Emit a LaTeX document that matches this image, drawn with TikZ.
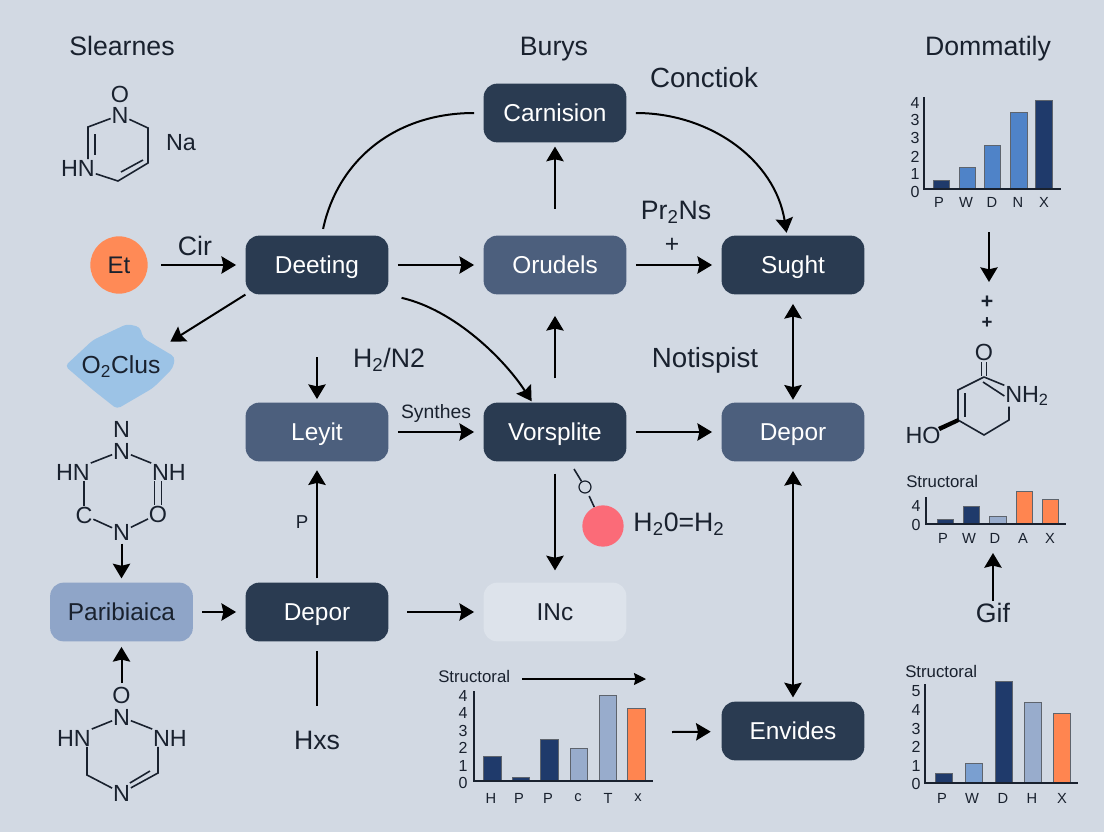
\documentclass[tikz,border=0pt]{standalone}
\usepackage{fontspec}
\setmainfont{Liberation Sans}
\usetikzlibrary{
  arrows.meta,
  calc
}
\definecolor{pagebg}{RGB}{210,217,227}
\definecolor{boxdark}{RGB}{42,59,81}
\definecolor{boxmid}{RGB}{76,95,125}
\definecolor{boxsoft}{RGB}{143,165,200}
\definecolor{boxpale}{RGB}{221,227,235}
\definecolor{inkdark}{RGB}{25,33,46}
\definecolor{barnavy}{RGB}{31,58,107}
\definecolor{barblue}{RGB}{79,131,200}
\definecolor{barsky}{RGB}{122,159,208}
\definecolor{barpale}{RGB}{152,172,204}
\definecolor{barorange}{RGB}{255,133,80}
\definecolor{ballorange}{RGB}{255,138,86}
\definecolor{ballred}{RGB}{251,107,120}
\definecolor{blobblue}{RGB}{156,195,230}

\begin{document}
\begin{tikzpicture}[
  x=0.75pt, y=-0.75pt,
  stepbox/.style={
    rectangle, rounded corners=10pt, text=white,
    minimum width=107pt, minimum height=44pt, inner sep=0pt,
    text height=13pt, text depth=0pt,
    font=\fontsize{18.3}{20}\selectfont
  },
  darkbox/.style={stepbox, fill=boxdark},
  midbox/.style={stepbox, fill=boxmid},
  softbox/.style={stepbox, fill=boxsoft, text=inkdark},
  palebox/.style={stepbox, fill=boxpale, text=inkdark},
  head/.style={inner sep=0pt, text=inkdark, text height=14.3pt, text depth=0pt,
    font=\fontsize{20}{22}\selectfont},
  headwide/.style={head, font=\fontsize{20.8}{22}\selectfont},
  lbl/.style={inner sep=0pt, text=inkdark, text height=13pt, text depth=0pt,
    font=\fontsize{18.5}{20}\selectfont},
  small/.style={inner sep=0pt, text=inkdark, font=\fontsize{12.6}{14}\selectfont},
  tick/.style={inner sep=0pt, text=inkdark, font=\fontsize{12}{14}\selectfont},
  axislbl/.style={inner sep=0pt, text=inkdark, font=\fontsize{11}{13}\selectfont},
  atom/.style={inner sep=0.5pt, text=inkdark, font=\fontsize{17.5}{19}\selectfont},
  flow/.style={draw=black, line width=1.5pt, -{Stealth[length=11pt,width=13pt,inset=1.5pt]},
    shorten <=7pt, shorten >=7pt},
  link/.style={draw=black, line width=1.5pt, shorten <=7pt, shorten >=7pt},
  bond/.style={draw=inkdark, line width=1.2pt},
  axis/.style={draw=inkdark, line width=1pt},
  barcol/.style={fill=#1, draw=inkdark!70, line width=0.4pt}
]
  \useasboundingbox (0,0) rectangle (1104,832);
  \fill[pagebg] (0,0) rectangle (1104,832);

  \node[head] (slearnes) at (122,46) {Slearnes};
  \node[head] (burys) at (554,46) {Burys};
  \node[headwide] (conctiok) at (704,78) {Conctiok};
  \node[head] (dommatily) at (988,46) {Dommatily};

  \node[darkbox] (carnision) at (555,113) {Carnision};
  \node[darkbox] (deeting) at (317,265) {Deeting};
  \node[midbox] (orudels) at (555,265) {Orudels};
  \node[darkbox] (sught) at (793,265) {Sught};
  \node[midbox] (leyit) at (317,432) {Leyit};
  \node[darkbox] (vorsplite) at (555,432) {Vorsplite};
  \node[midbox] (deporb) at (793,432) {Depor};
  \node[softbox] (paribiaica) at (121.5,612) {Paribiaica};
  \node[darkbox] (depora) at (317,612) {Depor};
  \node[palebox] (inc) at (555,612) {INc};
  \node[darkbox] (envides) at (793,731) {Envides};

  \node[circle, fill=ballorange, minimum size=43pt, inner sep=0pt, text=inkdark,
    font=\fontsize{18}{20}\selectfont] (et) at (119,265) {Et};
  \node[head] (cir) at (195,246) {Cir};
  \node[head] (prns) at (676,210) {Pr\textsubscript{2}Ns};
  \node[lbl] (plusa) at (672,244) {+};
  \node[head] (hnlabel) at (389,358) {H\textsubscript{2}/N2};
  \node[headwide] (notispist) at (705,358) {Notispist};
  \node[inner sep=0pt, text=inkdark, font=\fontsize{14.5}{16}\selectfont] (synthes) at (436,413) {Synthes};
  \node[inner sep=0pt, text=inkdark, font=\fontsize{14}{16}\selectfont] (plabel) at (302,522) {P};
  \node[head] (hxs) at (317,740) {Hxs};
  \node[head] (gif) at (993,613) {Gif};
  \node[head] (water) at (679,522) {H\textsubscript{2}0=H\textsubscript{2}};

  \fill[blobblue, rounded corners=3pt] (65,366) -- (93,340) -- (127,324) -- (140,327) -- (143,338)
    -- (175,357) -- (173,368) -- (153,388) -- (117,409) -- (93,390) -- cycle;
  \node[lbl, minimum width=73.5pt, minimum height=34.5pt] (oclus) at (121,365) {O\textsubscript{2}Clus};

  \node[circle, draw=inkdark, line width=0.9pt, minimum size=9pt, inner sep=0pt] (oxy) at (585,487) {};
  \node[circle, fill=ballred, minimum size=31pt, inner sep=0pt] (redball) at (603,526) {};
  \coordinate (oxyin) at (574,469);

  \draw[flow, shorten <=10pt] (et) -- (deeting);
  \draw[flow] (deeting) -- (orudels);
  \draw[flow] (orudels) -- (sught);
  \draw[flow, shorten <=20pt, shorten >=3pt] (orudels) -- (carnision);
  \draw[link, shorten <=5pt, shorten >=7pt] ([xshift=3.5pt]deeting.north) .. controls (338,160) and (395,113) .. (carnision.west);
  \draw[flow, shorten >=2pt] (carnision.east) .. controls (710,113) and (775,160) .. ([xshift=-4.5pt]sught.north);
  \draw[flow, shorten <=11pt, shorten >=1pt] ([xshift=-1pt]deeting.south east) .. controls (455,310) and (505,360) .. ([xshift=-17pt]vorsplite.north);
  \draw[flow, shorten <=0pt, shorten >=0pt] (deeting.south west) -- (oclus.north east);
  \draw[flow, shorten <=18pt, shorten >=16pt] (vorsplite) -- (orudels);
  \draw[flow, {Stealth[length=11pt,width=13pt,inset=1.5pt]}-{Stealth[length=11pt,width=13pt,inset=1.5pt]},
    shorten <=7pt, shorten >=2pt] (sught) -- (deporb);
  \draw[flow, {Stealth[length=11pt,width=13pt,inset=1.5pt]}-{Stealth[length=11pt,width=13pt,inset=1.5pt]},
    shorten <=7pt, shorten >=3pt] (deporb) -- (envides);
  \draw[flow] (vorsplite) -- (deporb);
  \draw[flow] (leyit) -- (vorsplite);
  \coordinate (leyitin) at (317,357);
  \draw[flow, shorten <=0pt, shorten >=2.5pt] (leyitin) -- (leyit);
  \draw[flow, shorten <=3pt, shorten >=6.5pt] (depora) -- (leyit);
  \draw[link, shorten >=18pt] (depora) -- (hxs);
  \draw[flow] (paribiaica) -- (depora);
  \draw[flow, shorten <=14pt] (depora) -- (inc);
  \draw[flow, shorten <=9pt, shorten >=9pt] (vorsplite) -- (inc);
  \draw[bond] (oxyin) -- (oxy);
  \draw[bond, shorten <=2.5pt] (oxy) -- (redball);

  \node[atom] (oa) at (120,94) {O};
  \node[atom] (na) at (120,115) {N};
  \node[atom] (hna) at (78,168) {HN};
  \coordinate (a1) at (148,128);
  \coordinate (a2) at (148,163);
  \coordinate (a3) at (118,181);
  \coordinate (a4) at (88,127);
  \node[atom] (naion) at (181,143) {Na};
  \draw[bond] (na) -- (a1) -- (a2) -- (a3) -- (hna);
  \draw[bond] (na) -- (a4) -- (a4 |- hna.north);
  \draw[bond] ($(a4)+(7,7)$) -- ($(a4)+(7,28)$);
  \draw[bond] ($(a2)+(-5,-3)$) -- ($(a3)+(3,-9)$);

  \node[atom] (nb) at (121.5,429) {N};
  \node[atom] (nc) at (121.5,451) {N};
  \node[atom] (hnb) at (73,472) {HN};
  \node[atom] (nhb) at (169,472) {NH};
  \node[atom] (cb) at (84,515) {C};
  \node[atom] (ob) at (158,514) {O};
  \node[atom] (nd) at (121.5,532) {N};
  \draw[bond] (nc) -- (hnb.north east);
  \draw[bond] (nc) -- (nhb.north west);
  \draw[bond] (cb.north) -- (cb.north |- hnb.south);
  \draw[bond] (cb) -- (nd);
  \draw[bond] (ob) -- (nd);
  \draw[bond] ($(ob.north)+(-3.5,0)$) -- ($(ob.north |- nhb.south)+(-3.5,0)$);
  \draw[bond] ($(ob.north)+(3.5,0)$) -- ($(ob.north |- nhb.south)+(3.5,0)$);
  \draw[flow, shorten <=2pt, shorten >=3pt] (nd) -- (paribiaica);

  \node[atom] (oe) at (121.5,695) {O};
  \node[atom] (ne) at (121.5,717) {N};
  \node[atom] (hne) at (74,738) {HN};
  \node[atom] (nhe) at (170,738) {NH};
  \node[atom] (nf) at (121.5,793) {N};
  \coordinate (e1) at (87,775);
  \coordinate (e2) at (158,773);
  \draw[bond] (ne) -- (hne.north east);
  \draw[bond] (ne) -- (nhe.north west);
  \draw[bond] (e1 |- hne.south) -- (e1) -- (nf);
  \draw[bond] (e2 |- nhe.south) -- (e2) -- (nf);
  \draw[bond] ($(e2)+(-8,-2)$) -- ($(nf.north east)+(-1,-1)$);
  \draw[flow, shorten <=2pt, shorten >=4pt] (oe) -- (paribiaica);

  \node[atom] (og) at (984,352) {O};
  \node[atom] (nhg) at (1027,396) {NH\textsubscript{2}};
  \node[atom] (hog) at (923,435) {HO};
  \coordinate (g1) at (984,377);
  \coordinate (g2) at (958,390);
  \coordinate (g3) at (958,420);
  \coordinate (g4) at (984,435);
  \coordinate (g5) at (1009,420);
  \draw[bond] (g1) -- (g2) -- (g3) -- (g4) -- (g5) -- (g5 |- nhg.south);
  \draw[bond] (g1) -- (nhg.north west);
  \draw[bond] (983,382) -- (nhg.west);
  \draw[bond] (965,393) -- (965,417);
  \draw[bond] (981.5,376) -- (981.5,362);
  \draw[bond] (986.5,376) -- (986.5,362);
  \fill[black] (958,418) -- (959,422) -- (940,431) -- (938,427) -- cycle;

  \coordinate (chartdown) at (989,232);
  \coordinate (chartdownto) at (989,282);
  \draw[flow, shorten <=0pt, shorten >=0pt] (chartdown) -- (chartdownto);
  \node[lbl, font=\bfseries\fontsize{16}{18}\selectfont] (plusb) at (987,300) {+};
  \node[lbl, font=\bfseries\fontsize{14}{16}\selectfont] (plusc) at (987,320) {+};
  \coordinate (chartup) at (993,553);
  \draw[flow, shorten <=2pt, shorten >=0pt] (gif) -- (chartup);
  \coordinate (chartout) at (672,732);
  \draw[flow, shorten <=0pt, shorten >=8pt] (chartout) -- (envides);

  \foreach \xa/\xb/\ytop/\col in {933/949/180/barnavy, 959/975/167/barblue, 984/1000/145/barblue,
    1010/1027/112/barblue, 1035/1052/100/barnavy}
    \filldraw[barcol=\col] (\xa,\ytop) rectangle (\xb,189);
  \draw[axis] (924,97) -- (924,189) -- (1061,189);
  \foreach \yt/\tl in {103/4, 120/3, 138/3, 157/2, 174/1, 192/0}
    \node[tick] at (915,\yt) {\tl};
  \foreach \xt/\tl in {939/P, 966/W, 992/D, 1018/N, 1044/X}
    \node[axislbl] at (\xt,202) {\tl};

  \foreach \xa/\xb/\ytop/\col in {937/953/519/barnavy, 963/979/506/barnavy, 989/1006/516/barpale,
    1016/1032/491/barorange, 1042/1058/499/barorange}
    \filldraw[barcol=\col] (\xa,\ytop) rectangle (\xb,524);
  \draw[axis] (926,497) -- (926,524) -- (1066,524);
  \node[small, anchor=west] (structb) at (906,481) {Structoral};
  \foreach \yt/\tl in {506/4, 525/0}
    \node[tick] at (916,\yt) {\tl};
  \foreach \xt/\tl in {943/P, 969/W, 995/D, 1023/A, 1050/X}
    \node[axislbl] at (\xt,538) {\tl};

  \foreach \xa/\xb/\ytop/\col in {935/952/773/barnavy, 965/982/763/barsky, 995/1012/681/barnavy,
    1024/1041/702/barpale, 1053/1070/713/barorange}
    \filldraw[barcol=\col] (\xa,\ytop) rectangle (\xb,783);
  \draw[axis] (925,684) -- (925,783) -- (1078,783);
  \node[small, anchor=west] (structc) at (905,671) {Structoral};
  \foreach \yt/\tl in {691/5, 710/4, 729/3, 747/2, 766/1, 784/0}
    \node[tick] at (916,\yt) {\tl};
  \foreach \xt/\tl in {942/P, 972/W, 1003/D, 1032/H, 1062/X}
    \node[axislbl] at (\xt,798) {\tl};

  \foreach \xa/\xb/\ytop/\col in {483/501/756/barnavy, 512/529/777/barnavy, 540/558/739/barnavy,
    570/587/748/barpale, 599/616/695/barpale, 627/645/708/barorange}
    \filldraw[barcol=\col] (\xa,\ytop) rectangle (\xb,781);
  \draw[axis] (474,691) -- (474,781) -- (653,781);
  \node[small, anchor=west] (structa) at (438,676) {Structoral};
  \coordinate (titleend) at (646,679);
  \draw[draw=black, line width=0.8pt, -{Stealth[length=9pt,width=9pt,inset=1pt]}] ($(structa.east)+(12,3)$) -- (titleend);
  \foreach \yt/\tl in {696/4, 713/4, 731/3, 748/2, 766/1, 783/0}
    \node[tick] at (463,\yt) {\tl};
  \foreach \xt/\tl in {491/H, 519/P, 548/P, 578/c, 608/T, 638/x}
    \node[axislbl] at (\xt,798) {\tl};
\end{tikzpicture}
\end{document}
